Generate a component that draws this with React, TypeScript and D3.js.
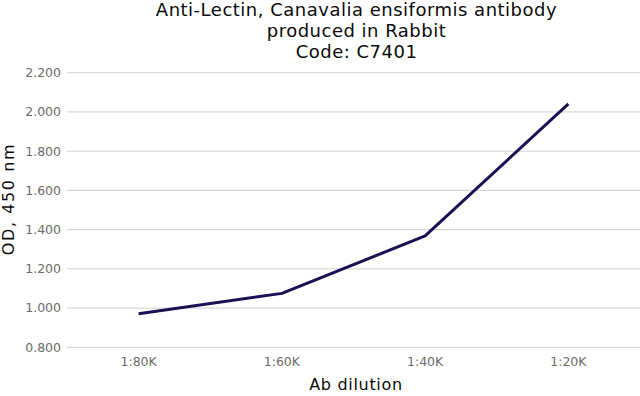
import React from "react";
import * as d3 from "d3";

const categories = ["1:80K", "1:60K", "1:40K", "1:20K"];
const values = [0.971, 1.075, 1.368, 2.041];
const yTicks = [0.8, 1.0, 1.2, 1.4, 1.6, 1.8, 2.0, 2.2];
const titleLines = ["Anti-Lectin, Canavalia ensiformis antibody", "produced in Rabbit", "Code: C7401"];
const xTitle = "Ab dilution";
const yTitle = "OD, 450 nm";

const W = 640, H = 396;
const left = 67, right = 640, top = 72.7, bottom = 347.3;
const font = "DejaVu Sans";

export default function App() {
  const x = d3.scaleBand<string>().domain(categories).range([left, right]).padding(0);
  const y = d3.scaleLinear().domain([0.8, 2.2]).range([bottom, top]);
  const line = d3.line<number>()
    .x((_, i) => (x(categories[i]) as number) + x.bandwidth() / 2)
    .y((d) => y(d));
  const fmt = d3.format(".3f");
  const cx = 356.5;
  return (
    <div style={{ position: "fixed", left: 0, top: 0, width: W, height: H, background: "#fff" }}>
      <svg width={W} height={H} style={{ display: "block", fontFamily: font }}>
        <rect width={W} height={H} fill="#fff" />
        {titleLines.map((t, i) => (
          <text key={t} x={cx} y={15.5 + i * 21} textAnchor="middle" fontSize={18} letterSpacing={0.5} fill="#0a0a0a">
            {t}
          </text>
        ))}
        {yTicks.map((v) => (
          <g key={v}>
            <line x1={left} x2={right} y1={y(v)} y2={y(v)} stroke="#cfcfcf" strokeWidth={1} />
            <text x={61} y={y(v)} dy="0.35em" textAnchor="end" fontSize={12.5} fill="#6b6b6b">
              {fmt(v)}
            </text>
          </g>
        ))}
        {categories.map((c) => (
          <text key={c} x={(x(c) as number) + x.bandwidth() / 2} y={366} textAnchor="middle" fontSize={12.5} fill="#6b6b6b">
            {c}
          </text>
        ))}
        <path d={line(values) || ""} fill="none" stroke="#1b1152" strokeWidth={3} strokeLinejoin="round" />
        <text x={356} y={390} textAnchor="middle" fontSize={16} letterSpacing={0.7} fill="#0a0a0a">
          {xTitle}
        </text>
        <text transform={`translate(14,199) rotate(-90)`} textAnchor="middle" fontSize={16} letterSpacing={1.6} fill="#0a0a0a">
          {yTitle}
        </text>
      </svg>
    </div>
  );
}
